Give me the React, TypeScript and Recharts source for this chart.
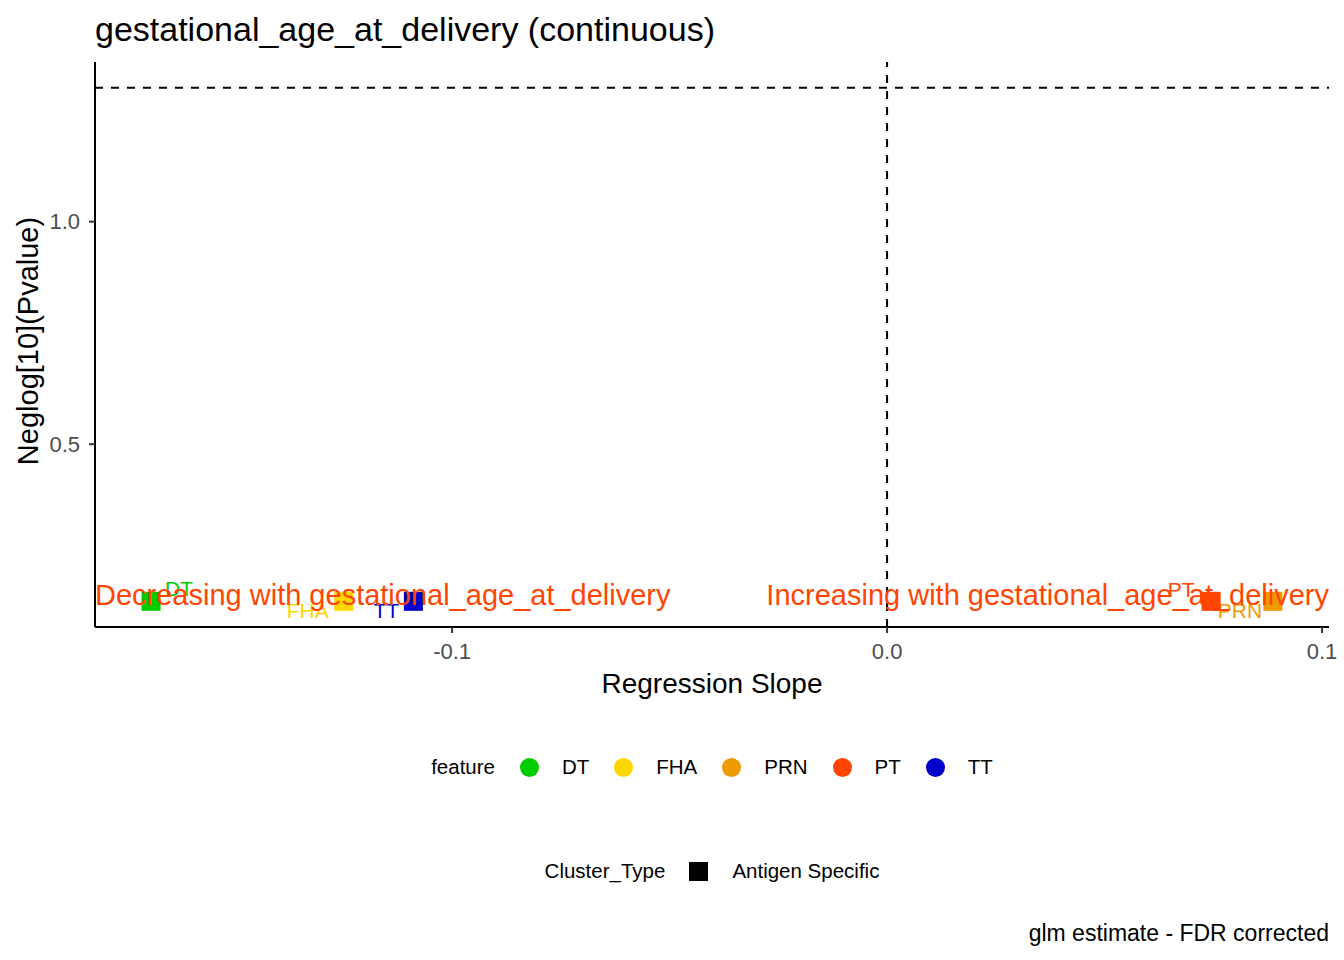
import React from 'react'
import { ScatterChart, Scatter, XAxis, YAxis, ReferenceLine } from 'recharts'

// glm results per antigen feature
const FEATURES = ['DT', 'FHA', 'PRN', 'PT', 'TT']
const SLOPES = [-0.1692, -0.1249, 0.0887, 0.0745, -0.1089]
const NEG_LOG_P = [0.147, 0.147, 0.147, 0.147, 0.147]
const FEATURE_COLORS = ['#00CD00', '#FFD700', '#EE9A00', '#FF4500', '#0000CD']

const X_TICKS = [-0.1, 0.0, 0.1]
const Y_TICKS = [0.5, 1.0]
const P_CUTOFF = 0.05
const TRAIT = 'gestational_age_at_delivery'

// repel-style label nudges (px)
const LABEL_NUDGE: Record<string, [number, number]> = {
  DT: [28, -13],
  FHA: [-36, 9],
  PRN: [-33, 9],
  PT: [-30, -12],
  TT: [-27, 9],
}

const FONT = '"Liberation Sans", Arial, sans-serif'
const W = 1344
const H = 960
const PANEL = { left: 95, right: 1329, top: 62, bottom: 627 }
const Y_AXIS_W = 60
const X_AXIS_H = 60

const threshold = -Math.log10(P_CUTOFF)

const expand = (lo: number, hi: number): [number, number] => {
  const r = hi - lo
  return [lo - r * 0.05, hi + r * 0.05]
}
const xDomain = expand(Math.min(...SLOPES), Math.max(...SLOPES))
const yDomain = expand(Math.min(...NEG_LOG_P), Math.max(threshold, ...NEG_LOG_P))

const seriesData = FEATURES.map((f, i) => ({
  feature: f,
  color: FEATURE_COLORS[i],
  points: [{ x: SLOPES[i], y: NEG_LOG_P[i], feature: f }],
}))

const annotations = [
  { x: xDomain[0], y: Math.min(...NEG_LOG_P), text: `Decreasing with ${TRAIT}`, anchor: 'start' },
  { x: xDomain[1], y: Math.min(...NEG_LOG_P), text: `Increasing with ${TRAIT}`, anchor: 'end' },
]

const squareShape = (color: string) => (props: any) => {
  const { cx, cy, payload } = props
  const [dx, dy] = LABEL_NUDGE[payload.feature] ?? [0, 0]
  return (
    <g>
      <rect x={cx - 9.5} y={cy - 9.5} width={19} height={19} fill={color} />
      <text
        x={cx + dx}
        y={cy + dy}
        dy="0.35em"
        textAnchor="middle"
        fontSize={21}
        fontFamily={FONT}
        fill={color}
      >
        {payload.feature}
      </text>
    </g>
  )
}

const annotationShape = (props: any) => {
  const { cx, cy, payload } = props
  return (
    <text
      x={cx}
      y={cy + 3.5}
      textAnchor={payload.anchor}
      fontSize={29}
      fontFamily={FONT}
      fill="#FF4500"
    >
      {payload.text}
    </text>
  )
}

const fmt = (v: number) => v.toFixed(1)

export default function App() {
  return (
    <div style={{ position: 'relative', width: W, height: H, background: '#fff', fontFamily: FONT }}>
      <style>{'body{margin:0}'}</style>

      <div style={{ position: 'absolute', left: 95, top: 10, fontSize: 34, color: '#000', whiteSpace: 'nowrap' }}>
        gestational_age_at_delivery (continuous)
      </div>

      <ScatterChart
        width={W}
        height={H}
        margin={{
          top: PANEL.top,
          left: PANEL.left - Y_AXIS_W,
          right: W - PANEL.right,
          bottom: H - PANEL.bottom - X_AXIS_H,
        }}
      >
        <XAxis
          type="number"
          dataKey="x"
          domain={xDomain}
          ticks={X_TICKS}
          allowDataOverflow
          tickFormatter={fmt}
          height={X_AXIS_H}
          axisLine={{ stroke: '#000', strokeWidth: 2 }}
          tickLine={{ stroke: '#333', strokeWidth: 2 }}
          tickSize={6}
          tickMargin={10}
          tick={{ fill: '#4D4D4D', fontSize: 22, fontFamily: FONT }}
        />
        <YAxis
          type="number"
          dataKey="y"
          domain={yDomain}
          ticks={Y_TICKS}
          allowDataOverflow
          tickFormatter={fmt}
          width={Y_AXIS_W}
          axisLine={{ stroke: '#000', strokeWidth: 2 }}
          tickLine={{ stroke: '#333', strokeWidth: 2 }}
          tickSize={6}
          tickMargin={9}
          tick={{ fill: '#4D4D4D', fontSize: 22, fontFamily: FONT }}
        />
        <ReferenceLine y={threshold} stroke="#000" strokeWidth={2} strokeDasharray="8 8" />
        <ReferenceLine x={0} stroke="#000" strokeWidth={2} strokeDasharray="8 8" />
        {seriesData.map((s) => (
          <Scatter
            key={s.feature}
            name={s.feature}
            data={s.points}
            fill={s.color}
            shape={squareShape(s.color)}
            isAnimationActive={false}
          />
        ))}
        <Scatter data={annotations} shape={annotationShape} isAnimationActive={false} />
      </ScatterChart>

      <div
        style={{
          position: 'absolute',
          left: 0,
          top: 341,
          fontSize: 29,
          transform: 'translate(28px, 0) translate(-50%, -50%) rotate(-90deg)',
          whiteSpace: 'nowrap',
          color: '#000',
        }}
      >
        Neglog[10](Pvalue)
      </div>

      <div
        style={{
          position: 'absolute',
          left: PANEL.left,
          width: PANEL.right - PANEL.left,
          top: 668,
          textAlign: 'center',
          fontSize: 28,
          color: '#000',
        }}
      >
        Regression Slope
      </div>

      <div
        style={{
          position: 'absolute',
          left: PANEL.left,
          width: PANEL.right - PANEL.left,
          top: 767,
          transform: 'translateY(-50%)',
          display: 'flex',
          justifyContent: 'center',
          alignItems: 'center',
          fontSize: 20.5,
          color: '#000',
        }}
      >
        <span style={{ marginRight: 25 }}>feature</span>
        {FEATURES.map((f, i) => (
          <React.Fragment key={f}>
            <span
              style={{
                width: 19,
                height: 19,
                borderRadius: '50%',
                background: FEATURE_COLORS[i],
                marginRight: 23,
                display: 'inline-block',
              }}
            />
            <span style={{ marginRight: i === FEATURES.length - 1 ? 0 : 25 }}>{f}</span>
          </React.Fragment>
        ))}
      </div>

      <div
        style={{
          position: 'absolute',
          left: PANEL.left,
          width: PANEL.right - PANEL.left,
          top: 871,
          transform: 'translateY(-50%)',
          display: 'flex',
          justifyContent: 'center',
          alignItems: 'center',
          fontSize: 20.5,
          color: '#000',
        }}
      >
        <span style={{ marginRight: 24 }}>Cluster_Type</span>
        <span style={{ width: 19, height: 19, background: '#000', marginRight: 24, display: 'inline-block' }} />
        <span>Antigen Specific</span>
      </div>

      <div
        style={{
          position: 'absolute',
          right: W - PANEL.right,
          top: 933,
          transform: 'translateY(-50%)',
          fontSize: 23,
          color: '#000',
          whiteSpace: 'nowrap',
        }}
      >
        glm estimate - FDR corrected
      </div>
    </div>
  )
}
